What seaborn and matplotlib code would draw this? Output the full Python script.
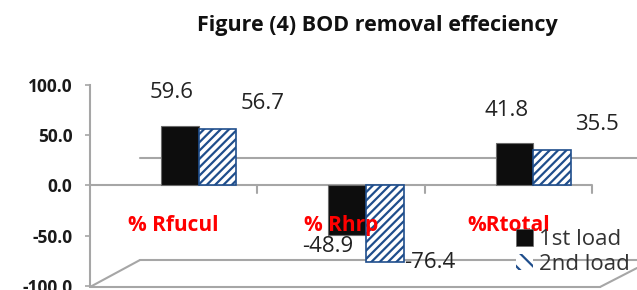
import matplotlib
matplotlib.use("Agg")
import matplotlib.pyplot as plt
from matplotlib.patches import Patch
from matplotlib.lines import Line2D
import seaborn as sns
import pandas as pd

categories = ["% Rfucul", "% Rhrp", "%Rtotal"]
series = ["1st load", "2nd load"]
load1 = [59.6, -48.9, 41.8]
load2 = [56.7, -76.4, 35.5]
yticks = [-100.0, -50.0, 0.0, 50.0, 100.0]

df = pd.DataFrame({
    "cat": categories * 2,
    "load": [series[0]] * 3 + [series[1]] * 3,
    "val": load1 + load2,
})

sns.set_theme(style="white")
plt.rcParams["font.family"] = ["Open Sans", "DejaVu Sans"]
plt.rcParams["hatch.linewidth"] = 1.6

W, H = 637, 290
fig = plt.figure(figsize=(W / 100, H / 100), dpi=100)
ax = fig.add_axes([90 / W, 1 - 286 / H, (592 - 90) / W, (286 - 85) / H])
ax.set_facecolor("none")

NAVY = "#1F4E8C"
GRAY = "#A6A6A6"

# 3D-style frame decoration (back wall / floor edges), in figure pixels
def fline(xs, ys):
    fig.add_artist(Line2D([x / W for x in xs], [1 - y / H for y in ys],
                          color=GRAY, lw=1.5, zorder=-1))

fline([140, 637], [158, 158])
fline([140, 637], [260, 260])
fline([90, 140], [287, 260])
fline([90, 600], [287, 287])
fline([600, 637], [287, 268])

sns.barplot(data=df, x="cat", y="val", hue="load", order=categories,
            hue_order=series, palette=["#111111", "white"], width=0.45,
            ax=ax, legend=False, saturation=1, zorder=3)

bars = ax.patches
black_bars = list(bars[:3])
hatch_bars = list(bars[3:6])
for b in black_bars:
    b.set_facecolor("#0d0d0d")
    b.set_edgecolor("#6b6b6b")
    b.set_linewidth(0.8)
for b in hatch_bars:
    b.set_facecolor("white")
    b.set_edgecolor(NAVY)
    b.set_hatch("////")
    b.set_linewidth(1.2)

# value labels
LBL = dict(fontsize=16, color="#222222", ha="center", va="center",
           textcoords="offset pixels", annotation_clip=False, zorder=5)
for b, v in zip(black_bars, load1):
    cx = b.get_x() + b.get_width() / 2
    if v > 0:
        ax.annotate(f"{v:.1f}", (cx, v), xytext=(-8, 33), **LBL)
    else:
        ax.annotate(f"{v:.1f}", (cx, v), xytext=(-20, -12), **LBL)
for b, v in zip(hatch_bars, load2):
    cx = b.get_x() + b.get_width() / 2
    if v > 0:
        ax.annotate(f"{v:.1f}", (cx, v), xytext=(45, 25), **LBL)
    else:
        ax.annotate(f"{v:.1f}", (cx, v), xytext=(45, 0), **LBL)

ax.set_ylim(-100, 100)
ax.set_xlim(-0.65, 2.35)
ax.set_yticks(yticks)
ax.set_yticklabels([f"{t:.1f}" for t in yticks], fontsize=12.5, fontweight="bold",
                   color="#1a1a1a")
ax.set_xticks([])
ax.set_xlabel("")
ax.set_ylabel("")

# category labels in red
for i, c in enumerate(categories):
    ax.text(i - 0.15, -40, c, ha="center", va="center", color="#FF0000",
            fontsize=15, fontweight="bold", zorder=4)

for s in ["top", "right", "bottom"]:
    ax.spines[s].set_visible(False)
ax.spines["left"].set_color(GRAY)
ax.spines["left"].set_linewidth(1.5)
ax.axhline(0, color=GRAY, lw=1.5, zorder=1)
for xb in [0.35, 1.35, 2.35]:
    ax.plot([xb, xb], [0, -7], color=GRAY, lw=1.5, clip_on=False, zorder=1)
ax.tick_params(axis="y", length=3.6, width=1.2, color=GRAY, direction="out",
               left=True, pad=9)

handles = [Patch(facecolor="#0d0d0d", edgecolor="#6b6b6b", lw=0.5),
           Patch(facecolor="white", edgecolor=NAVY, hatch="\\\\", lw=0)]
leg = fig.legend(handles, series, loc="center left",
                 bbox_to_anchor=(505 / W, 1 - 252 / H), frameon=False,
                 fontsize=16, handlelength=0.75, handleheight=0.75,
                 handletextpad=0.3, labelspacing=0.15, borderpad=0)
for t in leg.get_texts():
    t.set_color("#333333")

fig.text(377 / W, 1 - 25 / H, "Figure (4) BOD removal effeciency", ha="center",
         va="center", fontsize=15.5, fontweight="bold", color="#111111")

fig.savefig("out.png", dpi=100)
